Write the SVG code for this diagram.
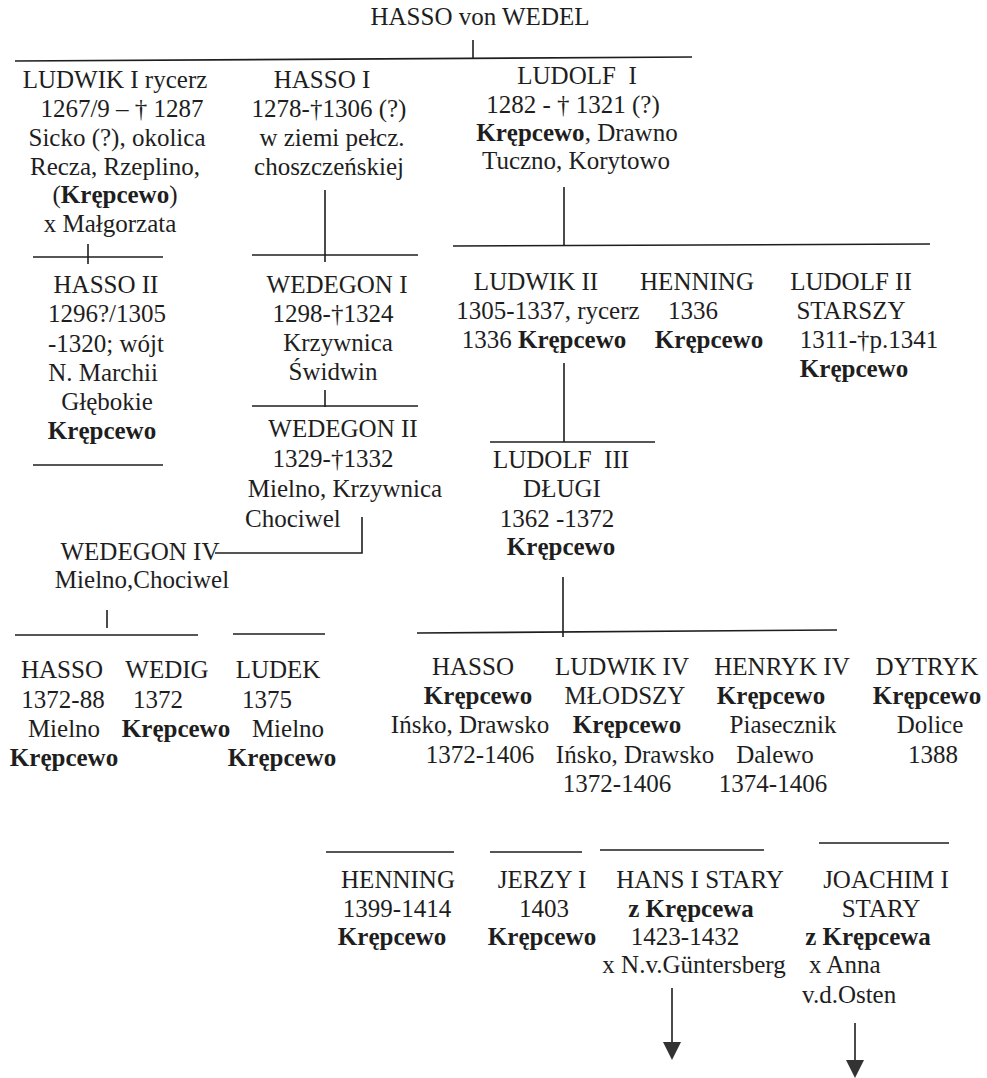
<svg xmlns="http://www.w3.org/2000/svg" width="987" height="1078" viewBox="0 0 987 1078">
<defs>
<style>
text{font-family:"Liberation Serif","Times New Roman",serif;font-size:25px;fill:#1e1e1e;text-anchor:middle}
.b{font-weight:bold}
.s{text-anchor:start}
.c line,.c polyline{stroke:#1e1e1e;stroke-width:1.6;fill:none}
</style>
<marker id="ah" viewBox="0 0 18 18" refX="0" refY="9" markerWidth="18" markerHeight="18" markerUnits="userSpaceOnUse" orient="auto">
<path d="M0,0 L18,9 L0,18 z" fill="#333"/>
</marker>
</defs>
<rect width="987" height="1078" fill="#fff"/>
<g id="connectors" class="c">
<line x1="473" y1="40" x2="473" y2="58"/>
<line x1="15" y1="61" x2="692" y2="57"/>
<line x1="88" y1="244" x2="88" y2="264"/>
<line x1="33" y1="257" x2="163" y2="257"/>
<line x1="33" y1="465" x2="163" y2="465"/>
<line x1="325" y1="190" x2="325" y2="262"/>
<line x1="252" y1="255" x2="418" y2="255"/>
<line x1="325" y1="390" x2="325" y2="407"/>
<line x1="252" y1="406" x2="418" y2="406"/>
<polyline points="362,517 362,553 215,553"/>
<line x1="107" y1="610" x2="107" y2="628"/>
<line x1="15" y1="635" x2="198" y2="635"/>
<line x1="233" y1="634" x2="325" y2="634"/>
<line x1="564" y1="187" x2="564" y2="245"/>
<line x1="453" y1="246" x2="930" y2="244"/>
<line x1="564" y1="363" x2="564" y2="442"/>
<line x1="490" y1="442" x2="655" y2="442"/>
<line x1="563" y1="577" x2="563" y2="637"/>
<line x1="417" y1="633" x2="837" y2="630"/>
<line x1="326" y1="852" x2="454" y2="852"/>
<line x1="490" y1="852" x2="582" y2="852"/>
<line x1="600" y1="850" x2="764" y2="850"/>
<line x1="819" y1="843" x2="949" y2="843"/>
<line x1="672" y1="988" x2="672" y2="1042" marker-end="url(#ah)"/>
<line x1="855" y1="1023" x2="855" y2="1060" marker-end="url(#ah)"/>
</g>
<g id="hasso-von-wedel"><text x="480" y="25">HASSO von WEDEL</text></g>
<g id="ludwik-1">
<text x="115" y="88">LUDWIK I rycerz</text>
<text x="122" y="117">1267/9 – † 1287</text>
<text x="117" y="146">Sicko (?), okolica</text>
<text x="115" y="175">Recza, Rzeplino,</text>
<text x="115" y="203">(<tspan class="b">Krępcewo</tspan>)</text>
<text x="110" y="232">x Małgorzata</text>
</g>
<g id="hasso-1">
<text x="322" y="88">HASSO I</text>
<text x="329" y="117">1278-†1306 (?)</text>
<text x="332" y="146">w ziemi pełcz.</text>
<text x="329" y="175">choszczeńskiej</text>
</g>
<g id="ludolf-1">
<text x="577" y="84" xml:space="preserve">LUDOLF  I</text>
<text x="573" y="113">1282 - † 1321 (?)</text>
<text x="577" y="141"><tspan class="b">Krępcewo</tspan>, Drawno</text>
<text x="576" y="169">Tuczno, Korytowo</text>
</g>
<g id="hasso-2">
<text x="106" y="293">HASSO II</text>
<text x="107" y="322">1296?/1305</text>
<text x="106" y="352">-1320; wójt</text>
<text x="103" y="381">N. Marchii</text>
<text x="107" y="410">Głębokie</text>
<text x="102" y="439" class="b">Krępcewo</text>
</g>
<g id="wedegon-1">
<text x="337" y="293">WEDEGON I</text>
<text x="333" y="322">1298-†1324</text>
<text x="338" y="351">Krzywnica</text>
<text x="333" y="380">Świdwin</text>
</g>
<g id="wedegon-2">
<text x="343" y="437">WEDEGON II</text>
<text x="333" y="467">1329-†1332</text>
<text x="345" y="497">Mielno, Krzywnica</text>
<text x="245" y="527" class="s">Chociwel</text>
</g>
<g id="wedegon-4">
<text x="140" y="560">WEDEGON IV</text>
<text x="142" y="588">Mielno,Chociwel</text>
</g>
<g id="hasso-mielno">
<text x="62" y="678">HASSO</text>
<text x="63" y="708">1372-88</text>
<text x="64" y="737">Mielno</text>
<text x="64" y="766" class="b">Krępcewo</text>
</g>
<g id="wedig">
<text x="167" y="678">WEDIG</text>
<text x="158" y="708">1372</text>
<text x="176" y="737" class="b">Krępcewo</text>
</g>
<g id="ludek">
<text x="278" y="678">LUDEK</text>
<text x="267" y="708">1375</text>
<text x="288" y="737">Mielno</text>
<text x="282" y="766" class="b">Krępcewo</text>
</g>
<g id="ludwik-2">
<text x="536" y="290">LUDWIK II</text>
<text x="548" y="319">1305-1337, rycerz</text>
<text x="544" y="348">1336 <tspan class="b">Krępcewo</tspan></text>
</g>
<g id="henning-1336">
<text x="697" y="290">HENNING</text>
<text x="693" y="319">1336</text>
<text x="709" y="348" class="b">Krępcewo</text>
</g>
<g id="ludolf-2">
<text x="851" y="290">LUDOLF II</text>
<text x="851" y="319">STARSZY</text>
<text x="869" y="348">1311-†p.1341</text>
<text x="854" y="377" class="b">Krępcewo</text>
</g>
<g id="ludolf-3">
<text x="561" y="468" xml:space="preserve">LUDOLF  III</text>
<text x="562" y="497">DŁUGI</text>
<text x="557" y="527">1362 -1372</text>
<text x="561" y="555" class="b">Krępcewo</text>
</g>
<g id="hasso-insko">
<text x="473" y="675">HASSO</text>
<text x="478" y="704" class="b">Krępcewo</text>
<text x="470" y="733">Ińsko, Drawsko</text>
<text x="480" y="763">1372-1406</text>
</g>
<g id="ludwik-4">
<text x="622" y="675">LUDWIK IV</text>
<text x="625" y="704">MŁODSZY</text>
<text x="627" y="733" class="b">Krępcewo</text>
<text x="635" y="763">Ińsko, Drawsko</text>
<text x="617" y="792">1372-1406</text>
</g>
<g id="henryk-4">
<text x="782" y="675">HENRYK IV</text>
<text x="771" y="704" class="b">Krępcewo</text>
<text x="783" y="733">Piasecznik</text>
<text x="775" y="763">Dalewo</text>
<text x="773" y="792">1374-1406</text>
</g>
<g id="dytryk">
<text x="927" y="675">DYTRYK</text>
<text x="927" y="704" class="b">Krępcewo</text>
<text x="930" y="733">Dolice</text>
<text x="933" y="763">1388</text>
</g>
<g id="henning-1399">
<text x="398" y="888">HENNING</text>
<text x="397" y="917">1399-1414</text>
<text x="392" y="945" class="b">Krępcewo</text>
</g>
<g id="jerzy-1">
<text x="542" y="888">JERZY I</text>
<text x="544" y="917">1403</text>
<text x="542" y="945" class="b">Krępcewo</text>
</g>
<g id="hans-1">
<text x="700" y="888">HANS I STARY</text>
<text x="691" y="917" class="b">z Krępcewa</text>
<text x="685" y="945">1423-1432</text>
<text x="694" y="973">x N.v.Güntersberg</text>
</g>
<g id="joachim-1">
<text x="886" y="888">JOACHIM I</text>
<text x="881" y="917">STARY</text>
<text x="868" y="945" class="b">z Krępcewa</text>
<text x="809" y="973" class="s">x Anna</text>
<text x="802" y="1003" class="s">v.d.Osten</text>
</g>
</svg>
